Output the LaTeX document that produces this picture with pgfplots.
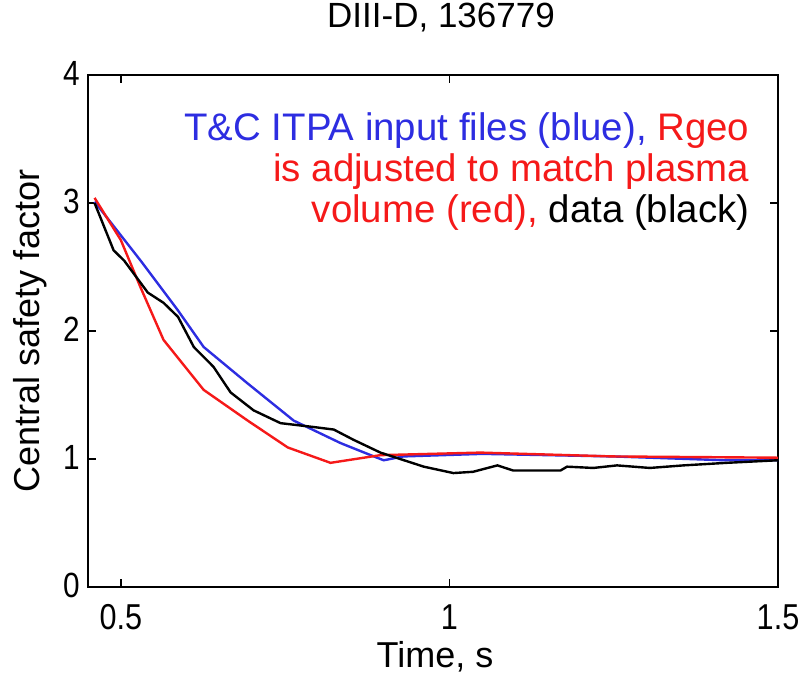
\documentclass[border=0pt]{standalone}
\usepackage{pgfplots}
\pgfplotsset{compat=1.18}
\usepackage{fontspec}
\setmainfont{Liberation Sans}
\newfontfamily\narrowsans[FakeStretch=0.85]{Liberation Sans}
\definecolor{mblue}{RGB}{45,45,225}
\definecolor{mred}{RGB}{245,25,25}
\begin{document}
\begin{tikzpicture}
\useasboundingbox (-44pt,-45.5pt) rectangle (357.5pt,293.5pt);
\begin{axis}[
  at={(0pt,0pt)}, anchor=south west,
  scale only axis,
  width=345pt, height=256pt,
  xmin=0.45, xmax=1.5, ymin=0, ymax=4,
  xtick={0.5,1,1.5}, xticklabels={0.5,1,1.5},
  ytick={0,1,2,3,4},
  tick align=inside,
  major tick length=4pt,
  axis line style={line width=1pt},
  tick style={line width=0.8pt, black},
  /pgf/number format/assume math mode=true,
  xticklabel style={font=\narrowsans\fontsize{18}{20}\selectfont, anchor=base, yshift=-21.5pt},
  yticklabel style={font=\narrowsans\fontsize{17.5}{19}\selectfont, anchor=east, inner sep=0pt, xshift=-4pt, yshift=1pt},
  title={DIII-D, 136779},
  title style={font=\fontsize{17.5}{20}\selectfont, at={(axis description cs:0.5,1)}, anchor=base, yshift=17.5pt, xshift=4pt},
  xlabel={Time, s},
  xlabel style={font=\fontsize{18}{20}\selectfont, at={(axis description cs:0.503,-0.158)}, anchor=base},
  ylabel={Central safety factor},
  ylabel style={font=\fontsize{18}{20}\selectfont, at={(axis description cs:-0.084,0.5)}, anchor=center},
  clip=false,
]
\addplot[mblue, line width=1.2pt] coordinates {
(0.46,3.01) (0.53,2.55) (0.587,2.16) (0.626,1.875) (0.693,1.59) (0.763,1.30)
(0.834,1.125) (0.885,1.02) (0.9,0.99) (0.93,1.02) (1.05,1.04) (1.249,1.02)
(1.42,0.99) (1.5,0.99)};
\addplot[mred, line width=1.2pt] coordinates {
(0.46,3.04) (0.5,2.71) (0.53,2.34) (0.565,1.93) (0.626,1.54) (0.693,1.30)
(0.754,1.09) (0.819,0.97) (0.895,1.03) (1.047,1.05) (1.249,1.02) (1.5,1.01)};
\addplot[black, line width=1.2pt] coordinates {
(0.46,3.0) (0.489,2.63) (0.505,2.55) (0.541,2.30) (0.565,2.22) (0.587,2.11)
(0.611,1.875) (0.641,1.72) (0.667,1.52) (0.702,1.38) (0.743,1.28) (0.793,1.25)
(0.824,1.23) (0.854,1.15) (0.895,1.05) (0.961,0.94) (1.006,0.89) (1.036,0.90)
(1.073,0.95) (1.097,0.91) (1.169,0.91) (1.179,0.94) (1.219,0.93) (1.255,0.95)
(1.305,0.93) (1.356,0.95) (1.422,0.97) (1.5,0.99)};
\node[anchor=north east, align=right, inner sep=0pt,
  font=\fontsize{19.2}{20.5}\selectfont] at (rel axis cs:0.959,0.928)
  {\textcolor{mblue}{T\&C ITPA input files (blue),} \textcolor{mred}{Rgeo}\\
   \textcolor{mred}{is adjusted to match plasma}\\
   \textcolor{mred}{volume (red),} data (black)};
\end{axis}
\end{tikzpicture}
\end{document}
